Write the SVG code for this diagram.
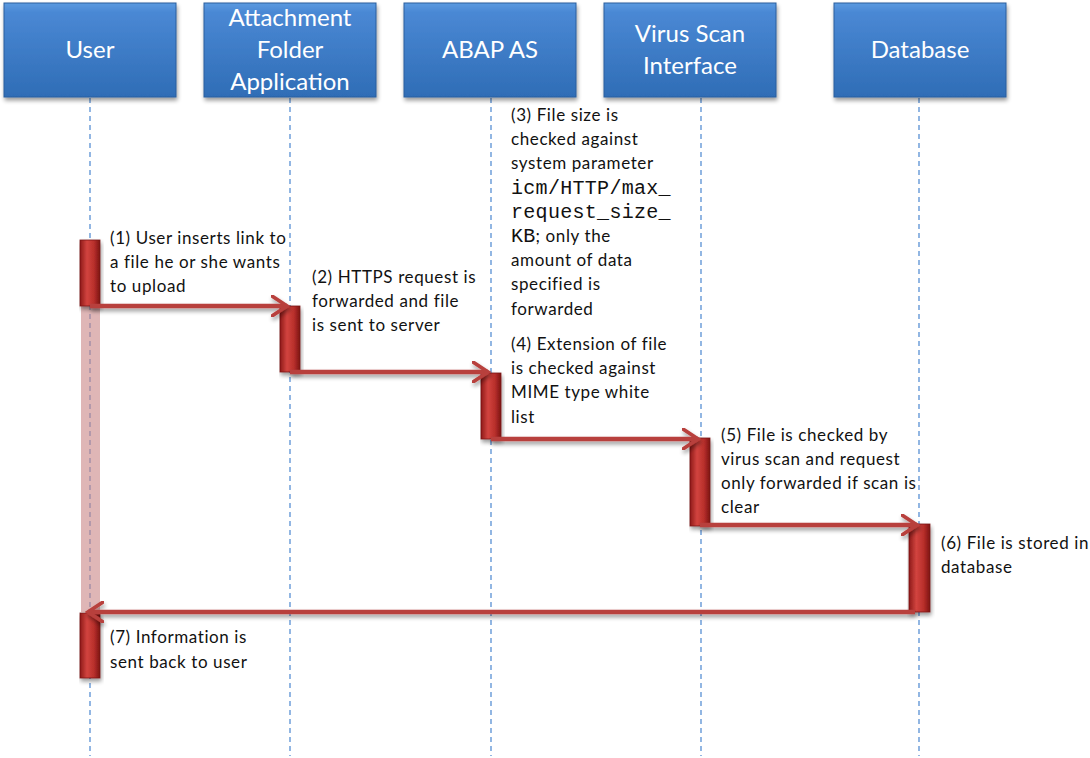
<svg xmlns="http://www.w3.org/2000/svg" width="1090" height="758" viewBox="0 0 1090 758">
<style>
.hdr rect{fill:url(#blue);stroke:#2a5f9e;stroke-width:1}
.hdr text{font-family:"Lato","Open Sans",sans-serif;font-size:24px;fill:#ffffff;text-anchor:middle}
.life{stroke:#4a86d0;stroke-width:1.2;stroke-dasharray:5,4;fill:none}
.bar{fill:url(#red);stroke:#7a1414;stroke-width:0.8}
.msg{stroke:#b8403c;stroke-width:4.5;fill:none;marker-end:url(#ah)}
.lbl{font-family:"Lato","Open Sans",sans-serif;font-size:17px;letter-spacing:0.6px;fill:#111111}
.mono{font-family:"Liberation Mono",monospace;font-size:20px;letter-spacing:0.3px;fill:#111111}
</style>
<defs>
<linearGradient id="blue" x1="0" y1="0" x2="0" y2="1">
<stop offset="0" stop-color="#5b9ae0"/>
<stop offset="0.1" stop-color="#4a88d4"/>
<stop offset="1" stop-color="#2f6db6"/>
</linearGradient>
<linearGradient id="red" x1="0" y1="0" x2="1" y2="0">
<stop offset="0" stop-color="#8e1a18"/>
<stop offset="0.35" stop-color="#d2443f"/>
<stop offset="0.7" stop-color="#b82f2b"/>
<stop offset="1" stop-color="#7c1412"/>
</linearGradient>
<filter id="sh" x="-10%" y="-10%" width="130%" height="140%">
<feGaussianBlur in="SourceAlpha" stdDeviation="2"/>
<feOffset dx="1" dy="3" result="b"/>
<feComponentTransfer><feFuncA type="linear" slope="0.4"/></feComponentTransfer>
<feMerge><feMergeNode/><feMergeNode in="SourceGraphic"/></feMerge>
</filter>
<marker id="ah" viewBox="0 0 12 14" refX="10" refY="7" markerWidth="4.4" markerHeight="5.1" orient="auto" markerUnits="strokeWidth">
<polyline points="1,1 10,7 1,13" fill="none" stroke="#b8403c" stroke-width="2.2" stroke-linecap="round"/>
</marker>
</defs>
<rect width="1090" height="758" fill="#ffffff"/>

<g id="lifelines">
<line class="life" x1="90" y1="98" x2="90" y2="756"/>
<line class="life" x1="290" y1="98" x2="290" y2="756"/>
<line class="life" x1="491" y1="98" x2="491" y2="756"/>
<line class="life" x1="701" y1="98" x2="701" y2="756"/>
<line class="life" x1="919" y1="98" x2="919" y2="756"/>
</g>

<g id="user" class="hdr"><rect x="4" y="3" width="172" height="94" filter="url(#sh)"/><text x="90" y="58">User</text></g>
<g id="attachment" class="hdr"><rect x="204" y="3" width="172" height="94" filter="url(#sh)"/><text x="290" y="26">Attachment</text><text x="290" y="58">Folder</text><text x="290" y="90">Application</text></g>
<g id="abap" class="hdr"><rect x="404" y="3" width="172" height="94" filter="url(#sh)"/><text x="490" y="58">ABAP AS</text></g>
<g id="virus" class="hdr"><rect x="604" y="3" width="172" height="94" filter="url(#sh)"/><text x="690" y="42">Virus Scan</text><text x="690" y="74">Interface</text></g>
<g id="database" class="hdr"><rect x="834" y="3" width="172" height="94" filter="url(#sh)"/><text x="920" y="58">Database</text></g>

<g id="activations">
<rect x="81" y="306" width="19" height="306" fill="#c98686" opacity="0.6"/>
<rect class="bar" x="80" y="240" width="20" height="66" filter="url(#sh)"/>
<rect class="bar" x="280" y="306" width="20" height="66" filter="url(#sh)"/>
<rect class="bar" x="481" y="373" width="20" height="66" filter="url(#sh)"/>
<rect class="bar" x="690" y="438" width="20" height="88" filter="url(#sh)"/>
<rect class="bar" x="909" y="524" width="21" height="88" filter="url(#sh)"/>
<rect class="bar" x="80" y="613" width="20" height="65" filter="url(#sh)"/>
</g>

<g id="connectors" filter="url(#sh)">
<line class="msg" x1="90" y1="306" x2="287" y2="306"/>
<line class="msg" x1="290" y1="372" x2="488" y2="372"/>
<line class="msg" x1="491" y1="439" x2="698" y2="439"/>
<line class="msg" x1="700" y1="525" x2="917" y2="525"/>
<line class="msg" x1="915" y1="612" x2="88" y2="612"/>
</g>

<g id="labels">
<text class="lbl" x="110" y="244">(1) User inserts link to</text>
<text class="lbl" x="110" y="268">a file he or she wants</text>
<text class="lbl" x="110" y="292">to upload</text>

<text class="lbl" x="312" y="283">(2) HTTPS request is</text>
<text class="lbl" x="312" y="307">forwarded and file</text>
<text class="lbl" x="312" y="331">is sent to server</text>

<text class="lbl" x="511" y="121">(3) File size is</text>
<text class="lbl" x="511" y="145">checked against</text>
<text class="lbl" x="511" y="169">system parameter</text>
<text class="mono" x="511" y="194">icm/HTTP/max_</text>
<text class="mono" x="511" y="218">request_size_</text>
<text x="511" y="242"><tspan class="mono">KB</tspan><tspan class="lbl">; only the</tspan></text>
<text class="lbl" x="511" y="266">amount of data</text>
<text class="lbl" x="511" y="290">specified is</text>
<text class="lbl" x="511" y="315">forwarded</text>

<text class="lbl" x="511" y="350">(4) Extension of file</text>
<text class="lbl" x="511" y="374">is checked against</text>
<text class="lbl" x="511" y="398">MIME type white</text>
<text class="lbl" x="511" y="423">list</text>

<text class="lbl" x="721" y="441">(5) File is checked by</text>
<text class="lbl" x="721" y="465">virus scan and request</text>
<text class="lbl" x="721" y="489">only forwarded if scan is</text>
<text class="lbl" x="721" y="513">clear</text>

<text class="lbl" x="941" y="549">(6) File is stored in</text>
<text class="lbl" x="941" y="573">database</text>

<text class="lbl" x="110" y="643">(7) Information is</text>
<text class="lbl" x="110" y="668">sent back to user</text>
</g>
</svg>
